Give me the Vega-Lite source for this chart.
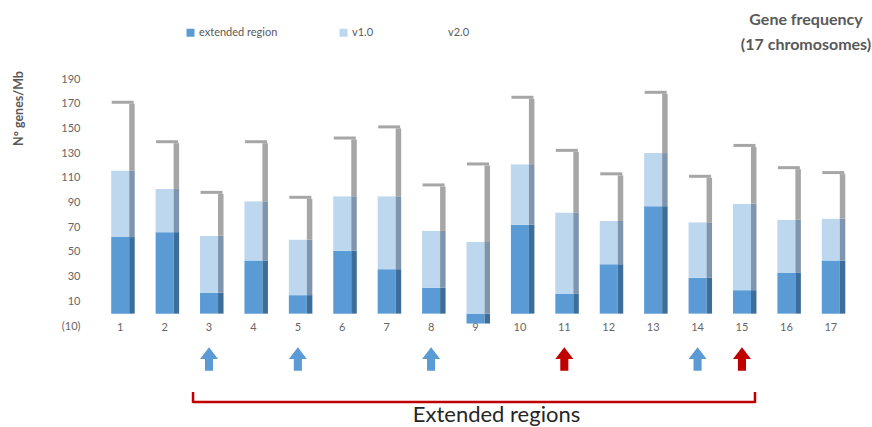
{
  "$schema": "https://vega.github.io/schema/vega-lite/v6.json",
  "autosize": "none",
  "width": 755,
  "height": 247,
  "padding": {"left": 98, "top": 79, "right": 19, "bottom": 101},
  "config": {
    "view": {"stroke": null},
    "font": "Lato",
    "axis": {"labelColor": "#666666", "labelFontSize": 11, "grid": false, "domain": false, "ticks": false, "tickSize": 0, "labelOverlap": false}
  },
  "title": {
    "text": ["Gene frequency", "(17 chromosomes)"],
    "anchor": "end",
    "align": "center",
    "dx": -47,
    "offset": -26,
    "fontSize": 16,
    "fontWeight": "bold",
    "color": "#595959",
    "lineHeight": 25
  },
  "resolve": {"scale": {"color": "independent"}},
  "datasets": {
    "genes": [
      {"chr": 1, "series": "extended region", "value": 62},
      {"chr": 1, "series": "v1.0", "value": 54},
      {"chr": 1, "series": "v2.0", "value": 54},
      {"chr": 2, "series": "extended region", "value": 66},
      {"chr": 2, "series": "v1.0", "value": 35},
      {"chr": 2, "series": "v2.0", "value": 37},
      {"chr": 3, "series": "extended region", "value": 17},
      {"chr": 3, "series": "v1.0", "value": 46},
      {"chr": 3, "series": "v2.0", "value": 34},
      {"chr": 4, "series": "extended region", "value": 43},
      {"chr": 4, "series": "v1.0", "value": 48},
      {"chr": 4, "series": "v2.0", "value": 47},
      {"chr": 5, "series": "extended region", "value": 15},
      {"chr": 5, "series": "v1.0", "value": 45},
      {"chr": 5, "series": "v2.0", "value": 33},
      {"chr": 6, "series": "extended region", "value": 51},
      {"chr": 6, "series": "v1.0", "value": 44},
      {"chr": 6, "series": "v2.0", "value": 46},
      {"chr": 7, "series": "extended region", "value": 36},
      {"chr": 7, "series": "v1.0", "value": 59},
      {"chr": 7, "series": "v2.0", "value": 55},
      {"chr": 8, "series": "extended region", "value": 21},
      {"chr": 8, "series": "v1.0", "value": 46},
      {"chr": 8, "series": "v2.0", "value": 36},
      {"chr": 9, "series": "extended region", "value": -8},
      {"chr": 9, "series": "v1.0", "value": 58},
      {"chr": 9, "series": "v2.0", "value": 62},
      {"chr": 10, "series": "extended region", "value": 72},
      {"chr": 10, "series": "v1.0", "value": 49},
      {"chr": 10, "series": "v2.0", "value": 53},
      {"chr": 11, "series": "extended region", "value": 16},
      {"chr": 11, "series": "v1.0", "value": 66},
      {"chr": 11, "series": "v2.0", "value": 49},
      {"chr": 12, "series": "extended region", "value": 40},
      {"chr": 12, "series": "v1.0", "value": 35},
      {"chr": 12, "series": "v2.0", "value": 37},
      {"chr": 13, "series": "extended region", "value": 87},
      {"chr": 13, "series": "v1.0", "value": 43},
      {"chr": 13, "series": "v2.0", "value": 48},
      {"chr": 14, "series": "extended region", "value": 29},
      {"chr": 14, "series": "v1.0", "value": 45},
      {"chr": 14, "series": "v2.0", "value": 36},
      {"chr": 15, "series": "extended region", "value": 19},
      {"chr": 15, "series": "v1.0", "value": 70},
      {"chr": 15, "series": "v2.0", "value": 46},
      {"chr": 16, "series": "extended region", "value": 33},
      {"chr": 16, "series": "v1.0", "value": 43},
      {"chr": 16, "series": "v2.0", "value": 41},
      {"chr": 17, "series": "extended region", "value": 43},
      {"chr": 17, "series": "v1.0", "value": 34},
      {"chr": 17, "series": "v2.0", "value": 36}
    ],
    "arrows": [
      {"chr": 3, "kind": "extended"},
      {"chr": 5, "kind": "extended"},
      {"chr": 8, "kind": "extended"},
      {"chr": 11, "kind": "new"},
      {"chr": 14, "kind": "extended"},
      {"chr": 15, "kind": "new"}
    ],
    "bracket": [
      {"from": 3, "to": 15, "label": "Extended regions"}
    ]
  },
  "layer": [
    {
      "data": {"name": "genes"},
      "transform": [
        {"stack": "value", "groupby": ["chr"], "sort": [{"field": "series", "order": "ascending"}], "as": ["lo", "hi"]}
      ],
      "mark": {"type": "bar", "width": 18},
      "encoding": {
        "x": {
          "field": "chr", "type": "ordinal",
          "scale": {"paddingInner": 0, "paddingOuter": 0},
          "axis": {"title": null, "labelAngle": 0, "labelBaseline": "middle", "labelPadding": 1, "labelDx": -4, "labelOverlap": false}
        },
        "y": {
          "field": "lo", "type": "quantitative",
          "scale": {"domain": [-10, 190], "nice": false, "zero": false},
          "axis": {
            "values": [-10, 10, 30, 50, 70, 90, 110, 130, 150, 170, 190],
            "tickCount": 11,
            "labelExpr": "datum.value < 0 ? '(' + (-datum.value) + ')' : '' + datum.value",
            "labelOverlap": false,
            "labelPadding": 18,
            "title": "N° genes/Mb",
            "titleFontSize": 12.5,
            "titleFontWeight": "bold",
            "titleColor": "#595959",
            "titleAngle": -90,
            "titleAlign": "center",
            "titleBaseline": "middle",
            "titleX": -80,
            "titleY": 29
          }
        },
        "y2": {"field": "hi"},
        "color": {
          "field": "series", "type": "nominal",
          "scale": {"domain": ["extended region", "v1.0", "v2.0"], "range": ["#5b9bd5", "#bdd7ee", "#ffffff"]},
          "legend": {
            "title": null,
            "orient": "none",
            "direction": "horizontal",
            "legendX": 87,
            "legendY": -52,
            "symbolType": "square",
            "symbolSize": 64,
            "symbolStrokeWidth": 0,
            "labelFontSize": 11,
            "labelColor": "#595959",
            "labelOffset": 3,
            "columnPadding": 60
          }
        }
      }
    },
    {
      "data": {"name": "genes"},
      "transform": [
        {"stack": "value", "groupby": ["chr"], "sort": [{"field": "series", "order": "ascending"}], "as": ["lo", "hi"]}
      ],
      "mark": {"type": "bar", "width": 5.5, "xOffset": 11.75},
      "encoding": {
        "x": {"field": "chr", "type": "ordinal"},
        "y": {"field": "lo", "type": "quantitative"},
        "y2": {"field": "hi"},
        "color": {
          "condition": [
            {"test": "datum.series === 'extended region'", "value": "#3d6e99"},
            {"test": "datum.series === 'v1.0'", "value": "#7e95ad"}
          ],
          "value": "#a6a6a6"
        }
      }
    },
    {
      "data": {"name": "genes"},
      "transform": [
        {"stack": "value", "groupby": ["chr"], "sort": [{"field": "series", "order": "ascending"}], "as": ["lo", "hi"]},
        {"filter": "datum.series === 'v2.0'"}
      ],
      "mark": {"type": "tick", "orient": "horizontal", "size": 22, "thickness": 3, "color": "#a6a6a6", "xOffset": 2.5, "yOffset": -1.5, "opacity": 1},
      "encoding": {
        "x": {"field": "chr", "type": "ordinal"},
        "y": {"field": "hi", "type": "quantitative"}
      }
    },
    {
      "data": {"name": "arrows"},
      "mark": {
        "type": "point",
        "shape": "M-0.45,1.3L-0.45,0L-1,0L0,-1.3L1,0L0.45,0L0.45,1.3Z",
        "size": 324,
        "filled": true,
        "opacity": 1,
        "yOffset": 33
      },
      "encoding": {
        "x": {"field": "chr", "type": "ordinal"},
        "y": {"datum": -10, "type": "quantitative"},
        "color": {
          "field": "kind", "type": "nominal",
          "scale": {"domain": ["extended", "new"], "range": ["#5b9bd5", "#c00000"]},
          "legend": null
        }
      }
    },
    {
      "data": {"name": "bracket"},
      "mark": {"type": "rule", "color": "#c00000", "strokeWidth": 2.5, "xOffset": -16, "x2Offset": 13, "yOffset": 76},
      "encoding": {
        "x": {"field": "from", "type": "ordinal"},
        "x2": {"field": "to"},
        "y": {"datum": -10, "type": "quantitative"}
      }
    },
    {
      "data": {"name": "bracket"},
      "mark": {"type": "rule", "color": "#c00000", "strokeWidth": 2.5, "xOffset": -16, "yOffset": 66, "y2Offset": 77},
      "encoding": {
        "x": {"field": "from", "type": "ordinal"},
        "y": {"datum": -10, "type": "quantitative"},
        "y2": {"datum": -10}
      }
    },
    {
      "data": {"name": "bracket"},
      "mark": {"type": "rule", "color": "#c00000", "strokeWidth": 2.5, "xOffset": 13, "yOffset": 66, "y2Offset": 77},
      "encoding": {
        "x": {"field": "to", "type": "ordinal"},
        "y": {"datum": -10, "type": "quantitative"},
        "y2": {"datum": -10}
      }
    },
    {
      "data": {"name": "bracket"},
      "mark": {"type": "text", "fontSize": 22, "color": "#262626", "baseline": "middle", "align": "center", "xOffset": 21, "yOffset": 89},
      "encoding": {
        "x": {"datum": 9, "type": "ordinal"},
        "y": {"datum": -10, "type": "quantitative"},
        "text": {"field": "label"}
      }
    }
  ]
}
